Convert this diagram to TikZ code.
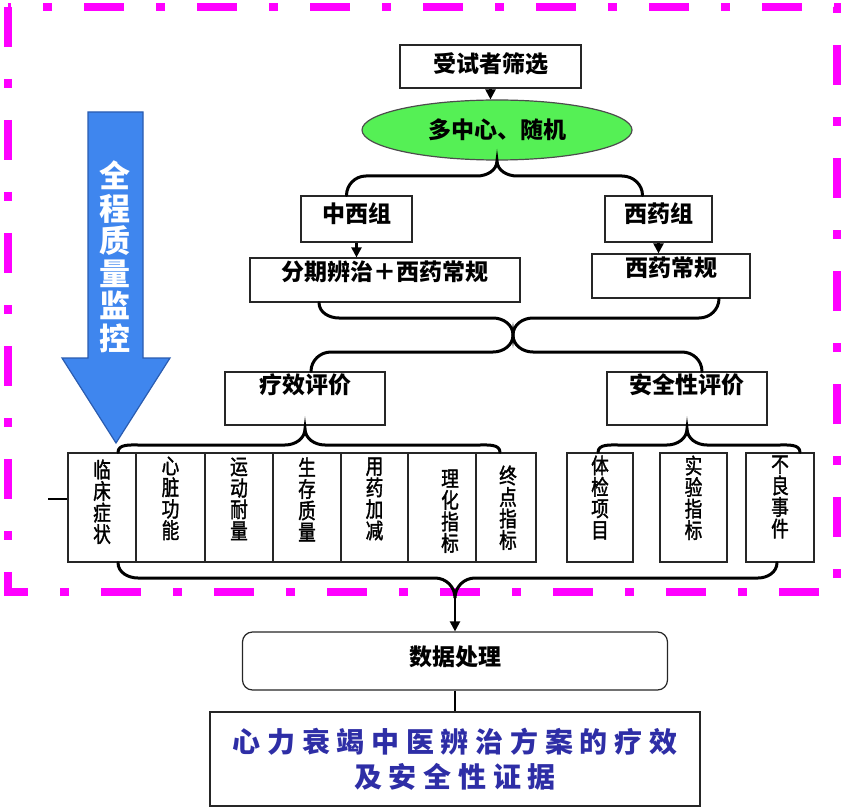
\documentclass[tikz,border=0pt]{standalone}
\usepackage{fontspec}
\setmainfont{Noto Sans CJK SC}
\newfontfamily\cjkn{Noto Sans CJK SC}[FakeStretch=0.82,FakeBold=1.6]
\newfontfamily\cjkw{Noto Sans CJK SC}[LetterSpace=24]
\usetikzlibrary{arrows.meta,shapes.geometric,calc}
\definecolor{frameM}{HTML}{FF00FF}
\definecolor{arrowB}{HTML}{3F86EE}
\definecolor{arrowE}{HTML}{2A5CB0}
\definecolor{ellG}{HTML}{55F055}
\definecolor{txtB}{HTML}{2E2EA6}
\begin{document}
\begin{tikzpicture}[x=1pt,y=-1pt,
  box/.style={draw=black!85,line width=1.2pt,fill=white,inner sep=0pt},
  lbl/.style={font=\fontsize{23}{25}\selectfont\bfseries,inner sep=0pt},
  vlbl/.style={font=\cjkn\fontsize{21.5}{21.5}\selectfont,align=center,inner sep=0pt,anchor=north},
  brace/.style={line width=3pt,line cap=round},
  arr/.style={line width=2.2pt,-{Triangle[length=10pt,width=10pt]}},
  frame/.style={draw=frameM,line width=8pt,dash pattern=on 40pt off 32pt on 9pt off 32pt}
]
\useasboundingbox (0,0) rectangle (845,810);
% frame
\draw[frame] (8,7) rectangle (837,592);

% blue arrow
\draw[fill=arrowB,draw=arrowE,line width=1.2pt] (88,112) -- (143,112) -- (143,358) -- (170,358) -- (116,443) -- (62,358) -- (88,358) -- cycle;
\node[font=\fontsize{31}{32.5}\selectfont\bfseries,text=white,align=center,inner sep=0pt] (qc) at (115,257) {全\\程\\质\\量\\监\\控};

% top
\node[box,minimum width=181,minimum height=43] (screen) at (490.5,66.5) {};
\node[lbl] (screenT) at (490.5,64) {受试者筛选};
\node[ellipse,draw=black!70,line width=1.2pt,fill=ellG,minimum width=270,minimum height=60,inner sep=0pt] (rand) at (497,130) {};
\node[lbl] (randT) at (rand.center) {多中心、随机};
\draw[arr] (screen.south) -- (screen.south |- rand.north);

% groups
\node[box,minimum width=111,minimum height=46] (zx) at (356.5,219) {};
\node[lbl] (zxT) at (356.5,214) {中西组};
\node[box,minimum width=107,minimum height=46] (xy) at (658.5,219) {};
\node[lbl] (xyT) at (658.5,214) {西药组};
\node[box,minimum width=270,minimum height=44] (fq) at (385,280) {};
\node[lbl] (fqT) at (385,272) {分期辨治＋西药常规};
\node[box,minimum width=158,minimum height=44] (xc) at (671,276) {};
\node[lbl] (xcT) at (671,268) {西药常规};
\draw[arr] (zx.south) -- (zx.south |- fq.north);
\draw[arr] (xy.south) -- (xy.south |- xc.north);

\draw[brace] ($(zx.north)+(-10,0)$) to[out=90,in=180] (366,176) -- (477,176)
  to[out=0,in=-90] (rand.south) to[out=-90,in=180] (517,176) -- (622,176)
  to[out=0,in=90] ($(xy.north)+(-16,0)$);

% evaluation
\node[box,minimum width=160,minimum height=53] (ly) at (305,398.5) {};
\node[lbl] (lyT) at (305,385) {疗效评价};
\node[box,minimum width=160,minimum height=53] (aq) at (687,398.5) {};
\node[lbl] (aqT) at (687,385) {安全性评价};

\coordinate (xtip) at (513,335);
\draw[brace] ($(fq.south)+(-66,0)$) to[out=-90,in=180] (339,318) -- (493,318)
  to[out=0,in=90] (xtip) to[out=90,in=180] (533,318) -- (699,318)
  to[out=0,in=-90] ($(xc.south)+(48,0)$);
\draw[brace] ($(ly.north)+(6,0)$) to[out=90,in=180] (331,352) -- (493,352)
  to[out=0,in=-90] (xtip) to[out=-90,in=180] (533,352) -- (682,352)
  to[out=0,in=90] ($(aq.north)+(15,0)$);

% item boxes
\foreach \nm/\xa/\xb in {b1/68/136,b2/136/205,b3/205/273,b4/273/341,b5/341/408,b6/408/476,b7/476/536,s1/567/633,s2/660/727,s3/746/814}{
  \node[box,minimum width=\xb-\xa,minimum height=109] (\nm) at ({(\xa+\xb)/2},507.5) {};
}
\node[vlbl] (t1) at ($(b1.north)+(0,7)$) {临\\床\\症\\状};
\node[vlbl] (t2) at ($(b2.north)+(0,4)$) {心\\脏\\功\\能};
\node[vlbl] (t3) at ($(b3.north)+(0,5)$) {运\\动\\耐\\量};
\node[vlbl] (t4) at ($(b4.north)+(0,5)$) {生\\存\\质\\量};
\node[vlbl] (t5) at ($(b5.north)+(0,5)$) {用\\药\\加\\减};
\node[vlbl] (t6) at ($(b6.north)+(8,17)$) {理\\化\\指\\标};
\node[vlbl] (t7) at ($(b7.north)+(2,13)$) {终\\点\\指\\标};
\node[vlbl] (t8) at ($(s1.north)+(0,3)$) {体\\检\\项\\目};
\node[vlbl] (t9) at ($(s2.north)+(0,3)$) {实\\验\\指\\标};
\node[vlbl] (t10) at ($(s3.north)+(0,3)$) {不\\良\\事\\件};

\coordinate (stub) at (48,499);
\draw[line width=2.5pt] (stub) -- (stub -| b1.west);

% braces under evaluation boxes
\draw[brace] ($(b1.north)+(16,0)$) to[out=90,in=180] (138,445) -- (285,445)
  to[out=0,in=-90] ($(ly.south)+(0,3)$) to[out=-90,in=180] (325,445) -- (480,445)
  to[out=0,in=90] ($(b7.north)+(-6,0)$);
\draw[brace] ($(s1.north)+(-2,0)$) to[out=90,in=180] (618,445) -- (667,445)
  to[out=0,in=-90] ($(aq.south)+(0,3)$) to[out=-90,in=180] (707,445) -- (780,445)
  to[out=0,in=90] ($(s3.north)+(20,0)$);

% bottom brace
\coordinate (btip) at (455,598);
\draw[brace] ($(b1.south)+(16,0)$) to[out=-90,in=180] (138,578) -- (435,578)
  to[out=0,in=90] (btip) to[out=90,in=180] (475,578) -- (758,578)
  to[out=0,in=-90] ($(s3.south)+(-3,0)$);

% data processing
\node[box,rounded corners=10pt,minimum width=425,minimum height=58] (dp) at (455,661) {};
\node[lbl] (dpT) at (455,657) {数据处理};
\draw[arr] (btip) -- (dp.north);

\node[box,minimum width=490,minimum height=94] (fin) at (455,759) {};
\node[font=\cjkw\fontsize{28}{35}\selectfont\bfseries,text=txtB,align=center,inner sep=0pt] (finT) at (455,759) {心力衰竭中医辨治方案的疗效\\及安全性证据};
\draw[line width=2.5pt] (dp.south) -- (fin.north);
\end{tikzpicture}
\end{document}
